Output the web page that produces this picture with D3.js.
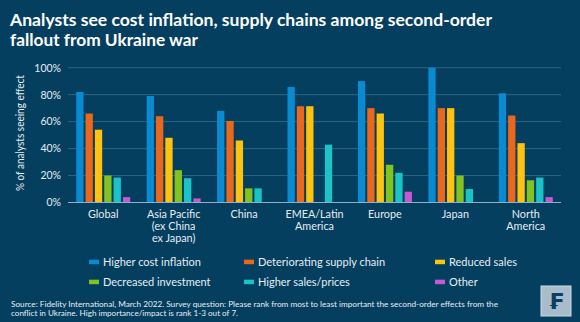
<!DOCTYPE html>
<html>
<head>
<meta charset="utf-8">
<script src="https://cdn.jsdelivr.net/npm/d3@7"></script>
<style>
  html, body { margin: 0; padding: 0; background: #053f60; }
  svg { display: block; font-family: "Lato", "Noto Sans", sans-serif; }
</style>
</head>
<body>
<div id="chart"></div>
<script>
/* data */
const regions = [
    ["Global"],
    ["Asia Pacific", "(ex China", "ex Japan)"],
    ["China"],
    ["EMEA/Latin", "America"],
    ["Europe"],
    ["Japan"],
    ["North", "America"]
];
const seriesNames = [
    "Higher cost inflation", "Deteriorating supply chain", "Reduced sales",
    "Decreased investment", "Higher sales/prices", "Other"
];
const seriesColors = ["#0a8ad0", "#e9681d", "#ffc20e", "#82c41f", "#19c3c6", "#c459d3"];

const costInflation   = [82, 79, 68, 85.7, 90, 100, 81];
const supplyChain     = [66, 64, 60.5, 71.4, 70, 70, 64.5];
const reducedSales    = [54, 48, 46, 71.4, 66, 70, 44];
const decreasedInvest = [20, 24, 10.5, 0, 28, 20, 16.5];
const higherSales     = [18.5, 18, 10.5, 42.9, 22, 10, 18.5];
const other           = [4, 3, 0, 0, 8, 0, 4];

const yTicks = [0, 20, 40, 60, 80, 100];

const seriesValues = [costInflation, supplyChain, reducedSales, decreasedInvest, higherSales, other];

/* layout */
const W = 580, H = 322;
const plot = { left: 68, right: 561, top: 67.7, bottom: 202.5 };

const svg = d3.select("#chart").append("svg")
    .attr("width", W)
    .attr("height", H);

svg.append("rect").attr("width", W).attr("height", H).attr("fill", "#053f60");

// title
const title = svg.append("text")
    .attr("x", 10)
    .attr("fill", "#ffffff")
    .style("font-size", "17px")
    .style("font-weight", "bold");
title.append("tspan").attr("x", 10).attr("y", 26)
    .attr("textLength", 482).attr("lengthAdjust", "spacingAndGlyphs")
    .text("Analysts see cost inflation, supply chains among second-order");
title.append("tspan").attr("x", 10).attr("y", 46)
    .attr("textLength", 188).attr("lengthAdjust", "spacingAndGlyphs")
    .text("fallout from Ukraine war");

/* scales */
const x0 = d3.scaleBand()
    .domain(d3.range(regions.length))
    .range([plot.left, plot.right]);

const x1 = d3.scaleBand()
    .domain(d3.range(seriesNames.length))
    .range([0, 54])
    .paddingInner(0.22);
const innerOffset = (x0.bandwidth() - 54) / 2;

const y = d3.scaleLinear()
    .domain([0, 100])
    .range([plot.bottom, plot.top]);

// gridlines
svg.append("g")
    .selectAll("line")
    .data(yTicks.filter(d => d > 0))
    .join("line")
    .attr("x1", plot.left).attr("x2", plot.right)
    .attr("y1", d => y(d)).attr("y2", d => y(d))
    .attr("stroke", "#2b6585")
    .attr("stroke-width", 1);

// y axis labels
const yAxis = svg.append("g")
    .attr("transform", `translate(${plot.left},0)`)
    .call(d3.axisLeft(y).tickValues(yTicks).tickFormat(d => d + "%").tickSize(0).tickPadding(7));
yAxis.select(".domain").remove();
yAxis.selectAll("text")
    .attr("fill", "#e6edf2")
    .style("font-size", "10.5px")
    .style("font-family", "Lato, 'Noto Sans', sans-serif");

svg.append("text")
    .attr("transform", `translate(24,${(plot.top + plot.bottom) / 2 - 2}) rotate(-90)`)
    .attr("text-anchor", "middle")
    .attr("fill", "#e6edf2")
    .style("font-size", "10.5px")
    .attr("textLength", 116).attr("lengthAdjust", "spacingAndGlyphs")
    .text("% of analysts seeing effect");

// bars
const groups = svg.append("g")
    .selectAll("g")
    .data(regions.map((r, i) => i))
    .join("g")
    .attr("transform", i => `translate(${x0(i) + innerOffset},0)`);

groups.selectAll("rect")
    .data(i => seriesValues.map((vals, s) => ({ s, v: vals[i] })).filter(d => d.v > 0))
    .join("rect")
    .attr("x", d => x1(d.s))
    .attr("y", d => y(d.v))
    .attr("width", x1.bandwidth())
    .attr("height", d => y(0) - y(d.v))
    .attr("fill", d => seriesColors[d.s]);

// baseline
svg.append("line")
    .attr("x1", plot.left).attr("x2", plot.right)
    .attr("y1", y(0)).attr("y2", y(0))
    .attr("stroke", "#8fb1c6")
    .attr("stroke-width", 1);

// category labels
const catLabels = svg.append("g")
    .selectAll("text")
    .data(regions)
    .join("text")
    .attr("x", (d, i) => x0(i) + x0.bandwidth() / 2)
    .attr("y", 218)
    .attr("text-anchor", "middle")
    .attr("fill", "#e6edf2")
    .style("font-size", "10.8px");
catLabels.selectAll("tspan")
    .data(d => d)
    .join("tspan")
    .attr("x", function () { return this.parentNode.getAttribute("x"); })
    .attr("dy", (d, i) => i === 0 ? 0 : 12.2)
    .text(d => d);

// legend
const legendCols = [89, 244, 435];
const legendRows = [261.7, 281.7];
const legend = svg.append("g")
    .selectAll("g")
    .data(seriesNames)
    .join("g")
    .attr("transform", (d, i) => `translate(${legendCols[i % 3]},${legendRows[Math.floor(i / 3)]})`);
legend.append("rect")
    .attr("x", 0).attr("y", -2)
    .attr("width", 10).attr("height", 4.5)
    .attr("fill", (d, i) => seriesColors[i]);
legend.append("text")
    .attr("x", 14).attr("y", 4)
    .attr("fill", "#e6edf2")
    .style("font-size", "11px")
    .text(d => d);

// source note
const note = svg.append("text")
    .attr("fill", "#e6edf2")
    .style("font-size", "7.4px");
note.append("tspan").attr("x", 11).attr("y", 306.5)
    .attr("textLength", 487).attr("lengthAdjust", "spacingAndGlyphs")
    .text("Source: Fidelity International, March 2022. Survey question: Please rank from most to least important the second-order effects from the");
note.append("tspan").attr("x", 11).attr("y", 315.5)
    .attr("textLength", 227).attr("lengthAdjust", "spacingAndGlyphs")
    .text("conflict in Ukraine. High importance/impact is rank 1-3 out of 7.");

// logo badge
const logo = svg.append("g").attr("transform", "translate(541,286)");
logo.append("rect")
    .attr("width", 30).attr("height", 30)
    .attr("fill", "#a8bccb")
    .attr("stroke", "#cddae3")
    .attr("stroke-width", 1);
logo.append("text")
    .attr("x", 15).attr("y", 23)
    .attr("text-anchor", "middle")
    .attr("fill", "#0b3f5f")
    .style("font-size", "22px")
    .style("font-weight", "bold")
    .style("font-family", "'DejaVu Sans', sans-serif")
    .text("₣");
</script>
</body>
</html>
